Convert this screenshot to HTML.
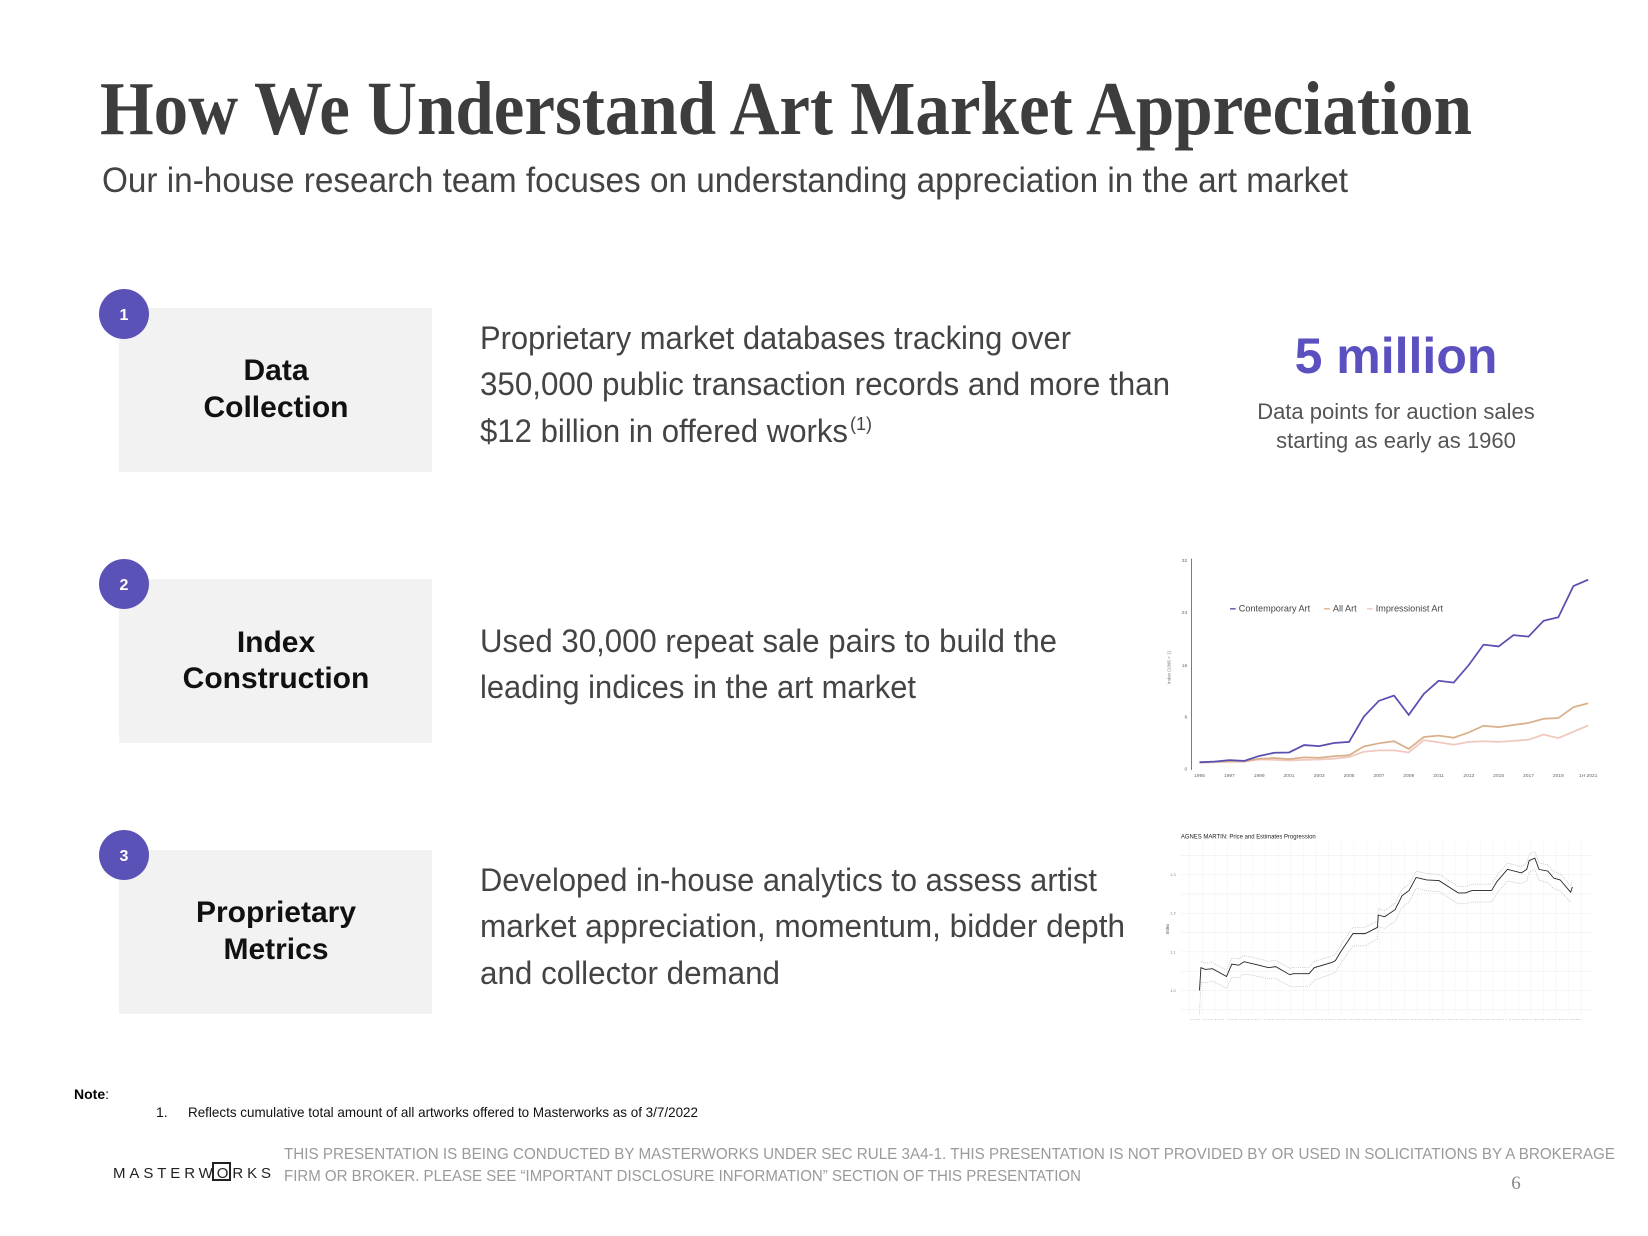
<!DOCTYPE html>
<html><head><meta charset="utf-8"><style>html,body{margin:0;padding:0;background:#fff}svg{display:block}</style></head>
<body>
<svg width="1648" height="1236" viewBox="0 0 1648 1236" xmlns="http://www.w3.org/2000/svg">
<rect width="1648" height="1236" fill="#fff"/>
<text x="100" y="134" font-family="Liberation Serif, serif" font-weight="bold" font-size="76" fill="#3d3d3d" textLength="1372" lengthAdjust="spacingAndGlyphs">How We Understand Art Market Appreciation</text>
<text x="102" y="192" font-family="Liberation Sans, sans-serif" font-size="35" fill="#444" textLength="1246" lengthAdjust="spacingAndGlyphs">Our in-house research team focuses on understanding appreciation in the art market</text>

<g font-family="Liberation Sans, sans-serif">
<rect x="119" y="308" width="313" height="164" fill="#f2f2f2"/>
<rect x="119" y="579" width="313" height="164" fill="#f2f2f2"/>
<rect x="119" y="850" width="313" height="164" fill="#f2f2f2"/>
<circle cx="124" cy="314" r="25" fill="#5b52b8"/>
<circle cx="124" cy="584" r="25" fill="#5b52b8"/>
<circle cx="124" cy="855" r="25" fill="#5b52b8"/>
<g fill="#fff" font-weight="bold" font-size="16" text-anchor="middle">
<text x="124" y="320">1</text><text x="124" y="590">2</text><text x="124" y="861">3</text></g>
<g fill="#111" font-weight="bold" font-size="30" text-anchor="middle">
<text x="276" y="380">Data</text><text x="276" y="417">Collection</text>
<text x="276" y="652">Index</text><text x="276" y="688">Construction</text>
<text x="276" y="922">Proprietary</text><text x="276" y="959">Metrics</text></g>
<g fill="#444" font-size="32">
<text x="480" y="349" textLength="591" lengthAdjust="spacingAndGlyphs">Proprietary market databases tracking over</text>
<text x="480" y="395" textLength="690" lengthAdjust="spacingAndGlyphs">350,000 public transaction records and more than</text>
<text x="480" y="442" textLength="368" lengthAdjust="spacingAndGlyphs">$12 billion in offered works</text>
<text x="850" y="430" font-size="18">(1)</text>
<text x="480" y="652" textLength="577" lengthAdjust="spacingAndGlyphs">Used 30,000 repeat sale pairs to build the</text>
<text x="480" y="698" textLength="436" lengthAdjust="spacingAndGlyphs">leading indices in the art market</text>
<text x="480" y="891" textLength="617" lengthAdjust="spacingAndGlyphs">Developed in-house analytics to assess artist</text>
<text x="480" y="937" textLength="645" lengthAdjust="spacingAndGlyphs">market appreciation, momentum, bidder depth</text>
<text x="480" y="984" textLength="300" lengthAdjust="spacingAndGlyphs">and collector demand</text></g>
<text x="1396" y="373" text-anchor="middle" font-weight="bold" font-size="50" fill="#5b50bf">5 million</text>
<text x="1396" y="419" text-anchor="middle" font-size="22" fill="#555">Data points for auction sales</text>
<text x="1396" y="448" text-anchor="middle" font-size="22" fill="#555">starting as early as 1960</text>
</g>

<svg x="1100" y="520" width="548" height="500" viewBox="0 0 1560 1424">
<g font-family="Liberation Sans, sans-serif">
<line x1="260" y1="110" x2="260" y2="712" stroke="#444" stroke-width="2"/>
<g font-size="14" fill="#666" text-anchor="end">
<text x="248" y="120">32</text><text x="248" y="268">24</text><text x="248" y="418">16</text><text x="248" y="565">8</text><text x="248" y="713">0</text></g>
<text transform="translate(200,420) rotate(-90)" font-size="13" fill="#777" text-anchor="middle">Index (1995 = 1)</text>
<g font-size="14" fill="#666" text-anchor="middle">
<text x="283" y="732">1995</text><text x="368" y="732">1997</text><text x="453" y="732">1999</text><text x="538" y="732">2001</text><text x="624" y="732">2003</text><text x="709" y="732">2005</text><text x="794" y="732">2007</text><text x="879" y="732">2009</text><text x="964" y="732">2011</text><text x="1050" y="732">2013</text><text x="1135" y="732">2015</text><text x="1220" y="732">2017</text><text x="1305" y="732">2019</text><text x="1390" y="732">1H 2021</text></g>
<polyline fill="none" stroke="#f0c8bf" stroke-width="5" points="283,692 326,690 368,689 411,688 453,682 496,683 538,685 581,683 624,682 666,680 709,675 751,660 794,656 837,656 879,662 922,627 964,633 1007,640 1050,632 1092,630 1135,632 1177,629 1220,626 1263,611 1305,621 1348,603 1390,585"/>
<polyline fill="none" stroke="#d9b089" stroke-width="5" points="283,690 326,688 368,687 411,687 453,680 496,678 538,681 581,676 624,677 666,673 709,670 751,645 794,636 837,630 879,652 922,618 964,614 1007,620 1050,605 1092,586 1135,590 1177,584 1220,578 1263,566 1305,564 1348,533 1390,522"/>
<polyline fill="none" stroke="#5a4fb0" stroke-width="5" points="283,690 326,688 368,684 411,686 453,672 496,663 538,662 581,641 624,644 666,635 709,632 751,560 794,515 837,500 879,555 922,495 964,458 1007,463 1050,413 1092,355 1135,360 1177,328 1220,332 1263,287 1305,277 1348,188 1390,170"/>
<g font-size="26" fill="#444">
<line x1="370" y1="253" x2="386" y2="253" stroke="#5a4fb0" stroke-width="4"/><text x="395" y="261">Contemporary Art</text>
<line x1="638" y1="253" x2="654" y2="253" stroke="#d9b089" stroke-width="4"/><text x="663" y="261">All Art</text>
<line x1="760" y1="253" x2="776" y2="253" stroke="#f0c8bf" stroke-width="4"/><text x="785" y="261">Impressionist Art</text></g>

<g transform="translate(0,-30)">
<text x="230" y="937" font-size="17" fill="#222">AGNES MARTIN: Price and Estimates Progression</text>
<g stroke="#eee" stroke-width="1.5">
<line x1="230" y1="985" x2="1400" y2="985"/><line x1="230" y1="1040" x2="1400" y2="1040"/><line x1="230" y1="1095" x2="1400" y2="1095"/><line x1="230" y1="1150" x2="1400" y2="1150"/><line x1="230" y1="1205" x2="1400" y2="1205"/><line x1="230" y1="1260" x2="1400" y2="1260"/><line x1="230" y1="1315" x2="1400" y2="1315"/><line x1="230" y1="1370" x2="1400" y2="1370"/><line x1="230" y1="1425" x2="1400" y2="1425"/>
</g>
<g stroke="#eee" stroke-width="1.2">
<path d="M255 945V1440M291 945V1440M327 945V1440M363 945V1440M399 945V1440M435 945V1440M471 945V1440M507 945V1440M543 945V1440M579 945V1440M615 945V1440M651 945V1440M687 945V1440M723 945V1440M759 945V1440M795 945V1440M831 945V1440M867 945V1440M903 945V1440M939 945V1440M975 945V1440M1011 945V1440M1047 945V1440M1083 945V1440M1119 945V1440M1155 945V1440M1191 945V1440M1227 945V1440M1263 945V1440M1299 945V1440M1335 945V1440M1371 945V1440"/></g>
<g font-size="11" fill="#777" text-anchor="end"><text x="215" y="1044">1.3</text><text x="215" y="1154">1.2</text><text x="215" y="1264">1.1</text><text x="215" y="1374">1.0</text></g>
<text transform="translate(196,1195) rotate(-90)" font-size="12" fill="#444" text-anchor="middle">Index</text>
<text x="255" y="1460" font-size="11" fill="#888" textLength="1115" lengthAdjust="spacingAndGlyphs">1989 1990 1991 1992 1993 1994 1995 1996 1997 1998 1999 2000 2001 2002 2003 2004 2005 2006 2007 2008 2009 2010 2011 2012 2013 2014 2015 2016 2017 2018 2019 2020</text>
<text x="815" y="1474" font-size="12" fill="#555" text-anchor="middle">Date</text>
<g fill="none" stroke="#bbb" stroke-width="2" stroke-dasharray="3,3">
<polyline transform="translate(0,-18)" points="287,1305 300,1310 320,1308 360,1330 375,1295 395,1298 410,1288 440,1295 480,1305 500,1302 540,1325 550,1322 595,1322 610,1305 660,1290 670,1285 685,1260 720,1208 755,1208 790,1190 792,1155 810,1160 840,1140 860,1100 880,1085 900,1048 930,1055 965,1057 1020,1092 1040,1092 1060,1085 1115,1085 1130,1060 1160,1025 1200,1035 1215,1025 1222,1000 1238,993 1250,1025 1275,1030 1292,1050 1310,1055 1340,1090 1345,1075"/>
<polyline transform="translate(0,18)" points="283,1420 287,1330 300,1330 320,1325 360,1345 375,1315 395,1315 410,1305 440,1310 480,1318 500,1318 540,1340 550,1340 595,1340 610,1322 660,1305 670,1300 685,1275 720,1225 755,1225 790,1205 792,1170 810,1175 840,1155 860,1115 880,1100 900,1060 930,1068 965,1070 1020,1105 1040,1105 1060,1100 1115,1100 1130,1075 1160,1040 1200,1048 1215,1040 1222,1015 1238,1008 1250,1038 1275,1045 1292,1062 1310,1068 1340,1100"/>
</g>
<polyline fill="none" stroke="#222" stroke-width="2.5" points="283,1370 287,1305 300,1310 320,1308 360,1330 375,1295 395,1298 410,1288 440,1295 480,1305 500,1302 540,1325 550,1322 595,1322 610,1305 660,1290 670,1285 685,1260 720,1208 755,1208 790,1190 792,1155 810,1160 840,1140 860,1100 880,1085 900,1048 930,1055 965,1057 1020,1092 1040,1092 1060,1085 1115,1085 1130,1060 1160,1025 1200,1035 1215,1025 1222,1000 1238,993 1250,1025 1275,1030 1292,1050 1310,1055 1340,1090 1345,1075"/>
</g>
</g>
</svg>

<g font-family="Liberation Sans, sans-serif">
<text x="74" y="1099" font-size="14" font-weight="bold" fill="#000">Note<tspan font-weight="normal">:</tspan></text>
<text x="156" y="1117" font-size="14" fill="#111">1.</text>
<text x="188" y="1117" font-size="14" fill="#111" textLength="510" lengthAdjust="spacingAndGlyphs">Reflects cumulative total amount of all artworks offered to Masterworks as of 3/7/2022</text>
<text x="284" y="1159" font-size="16" fill="#9a9a9a" textLength="1331" lengthAdjust="spacingAndGlyphs">THIS PRESENTATION  IS BEING CONDUCTED BY MASTERWORKS UNDER SEC RULE 3A4-1. THIS PRESENTATION  IS NOT PROVIDED BY OR USED IN SOLICITATIONS BY A BROKERAGE</text>
<text x="284" y="1181" font-size="16" fill="#9a9a9a" textLength="797" lengthAdjust="spacingAndGlyphs">FIRM OR BROKER. PLEASE SEE “IMPORTANT DISCLOSURE INFORMATION” SECTION OF THIS PRESENTATION</text>
<text x="113" y="1178" font-size="15" fill="#222" textLength="158" lengthAdjust="spacing">MASTERWORKS</text>
<rect x="213" y="1163" width="17" height="17" fill="none" stroke="#222" stroke-width="2"/>
<text x="1516" y="1189" font-family="Liberation Serif, serif" font-size="19" fill="#888" text-anchor="middle">6</text>
</g>
</svg>
</body></html>
